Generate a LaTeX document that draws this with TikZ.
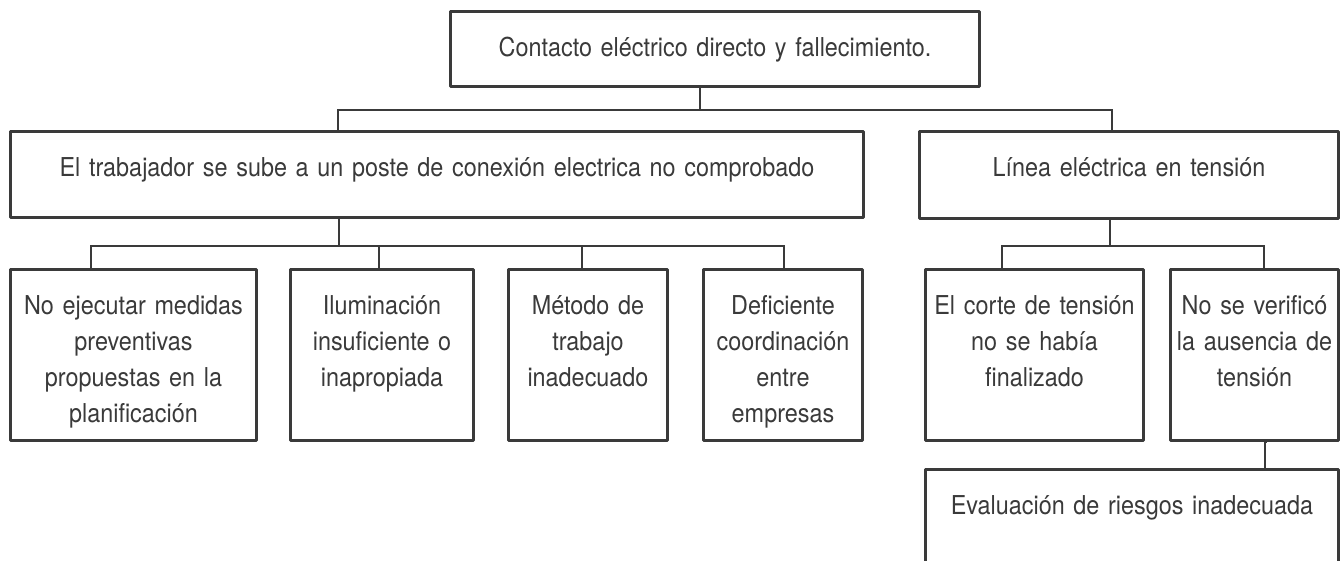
\documentclass[tikz,border=0pt]{standalone}
\usepackage{fontspec}
\setmainfont[FakeStretch=0.9]{TeX Gyre Heros}
\definecolor{ink}{HTML}{3A3A3A}

\begin{document}
\begin{tikzpicture}[x = 1pt, y = -1pt,
  box/.style = {draw = ink, line width = 3pt, line join = round, inner sep = 0pt, align = center,
    anchor = north west, text height = 45pt, text = ink,
    font = \fontsize{26}{36}\selectfont},
  link/.style = {draw = ink, line width = 2pt}]
\useasboundingbox (0,0) rectangle (1341,561);
\clip (0,0) rectangle (1341,561);
% top event
\node[box, text width = 529pt, text depth = 30pt] (top) at (449,10) {Contacto eléctrico directo y fallecimiento.};
% second level
\node[box, text width = 853pt, text depth = 41pt] (poste) at (9,130) {El trabajador se sube a un poste de conexión electrica no comprobado};
\node[box, text width = 419pt, text depth = 42pt] (linea) at (918,130) {Línea eléctrica en tensión};
% causes
\node[box, text width = 246pt, text depth = 126pt] (medidas) at (9,268) {No ejecutar medidas\\preventivas\\propuestas en la\\planificación};
\node[box, text width = 183pt, text depth = 126pt] (luz) at (289,268) {Iluminación\\insuficiente o\\inapropiada};
\node[box, text width = 159pt, text depth = 126pt] (metodo) at (507,268) {Método de\\trabajo\\inadecuado};
\node[box, text width = 159pt, text depth = 126pt] (coord) at (702,268) {Deficiente\\coordinación\\entre\\empresas};
\node[box, text width = 218pt, text depth = 126pt] (corte) at (924,268) {El corte de tensión\\no se había\\finalizado};
\node[box, text width = 168pt, text depth = 126pt] (verif) at (1169,268) {No se verificó\\la ausencia de\\tensión};
\node[box, text width = 413pt, text depth = 75pt] (riesgos) at (924,468) {Evaluación de riesgos inadecuada};

% connectors
\coordinate (jt) at ([xshift = -15.5, yshift = -22]top.south);
\draw[link] ([xshift = -15.5]top.south) -- (jt);
\draw[link] (jt) -| ([xshift = -99.5]poste.north);
\draw[link] (jt) -| ([xshift = -17.5]linea.north);

\coordinate (jp) at ([xshift = -98.5, yshift = -27]poste.south);
\draw[link] ([xshift = -98.5]poste.south) -- (jp);
\draw[link] (jp) -| ([xshift = -43]medidas.north);
\draw[link] (jp) -| ([xshift = -3.5]luz.north);
\draw[link] (jp) -| ([xshift = -6.5]metodo.north);
\draw[link] (jp) -| ([xshift = 0.5]coord.north);

\coordinate (jl) at ([xshift = -19.5, yshift = -26]linea.south);
\draw[link] ([xshift = -19.5]linea.south) -- (jl);
\draw[link] (jl) -| ([xshift = -33]corte.north);
\draw[link] (jl) -| ([xshift = 9]verif.north);

\draw[link] ([xshift = 12]verif.south) -- (verif.south -| 1265,0) |- (riesgos.north -| 1265,0);
\end{tikzpicture}
\end{document}
